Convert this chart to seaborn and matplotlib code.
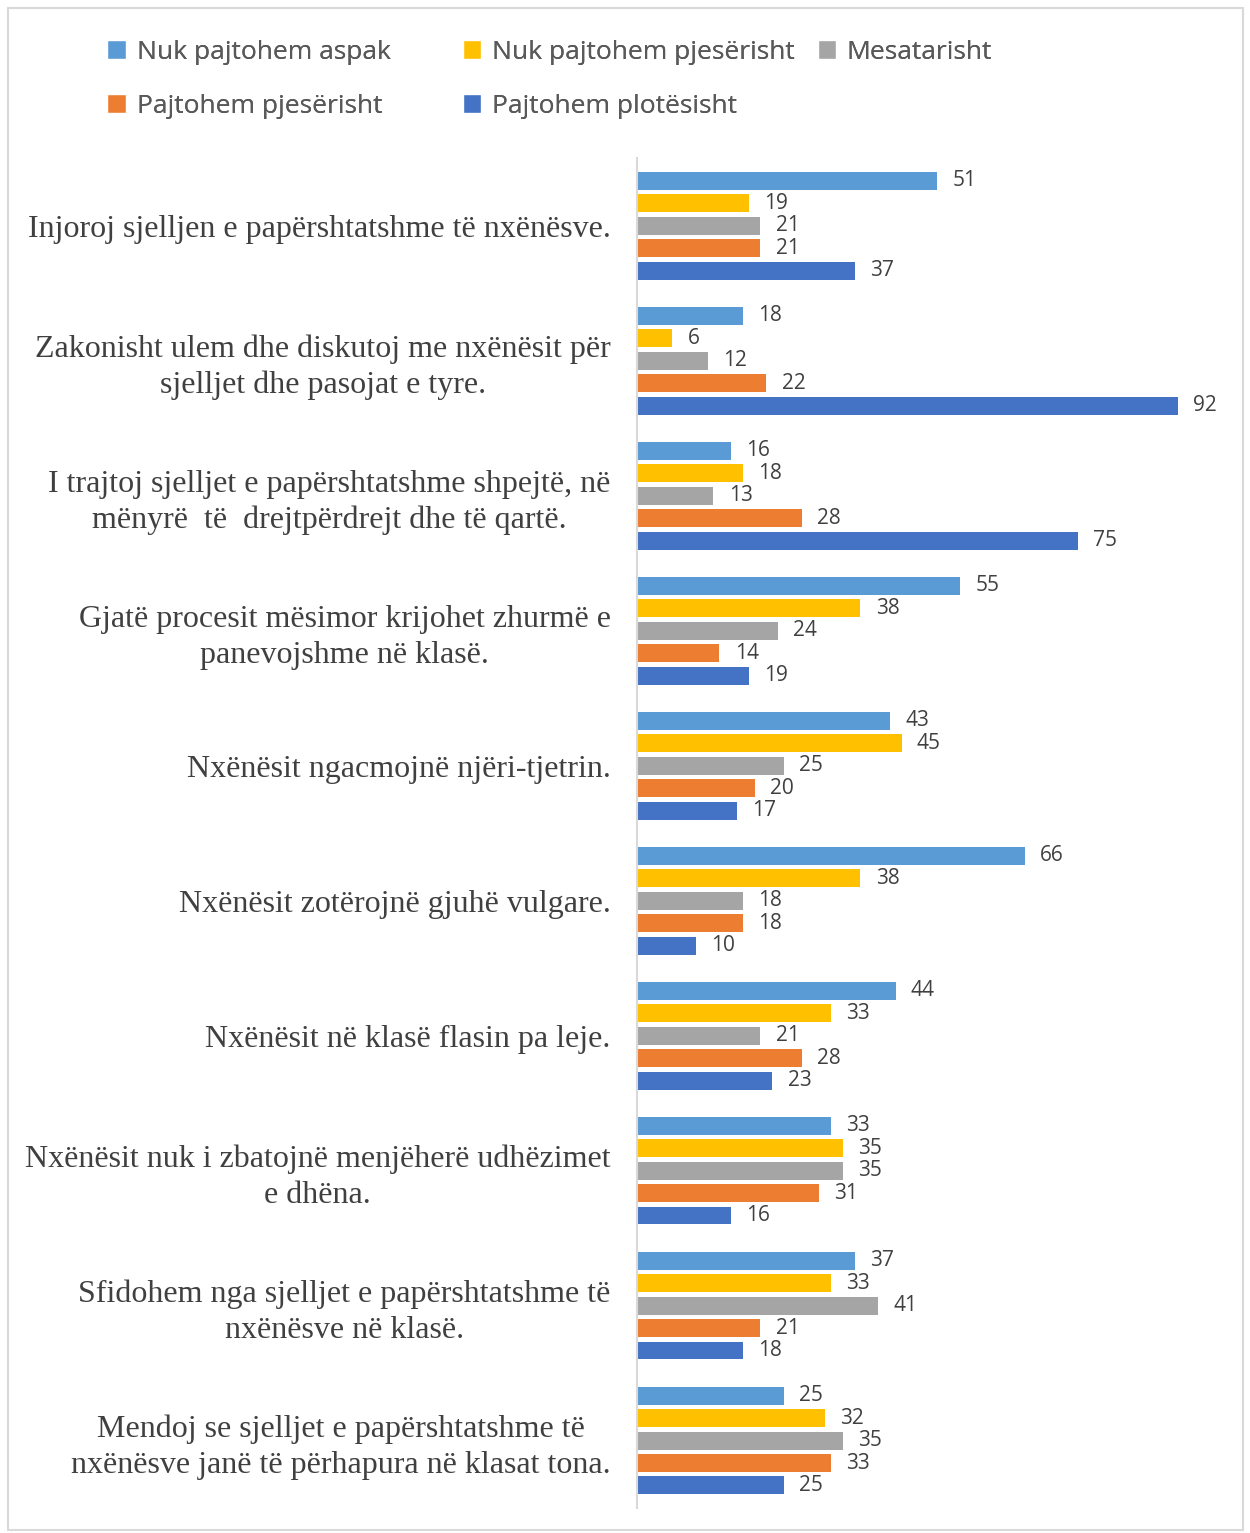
import seaborn as sns
import pandas as pd
import matplotlib.pyplot as plt
from matplotlib.patches import Rectangle, Patch

statements = [
    "Injoroj sjelljen e papërshtatshme të nxënësve.",
    "Zakonisht ulem dhe diskutoj me nxënësit për\nsjelljet dhe pasojat e tyre.",
    "I trajtoj sjelljet e papërshtatshme shpejtë, në\nmënyrë  të  drejtpërdrejt dhe të qartë.",
    "Gjatë procesit mësimor krijohet zhurmë e\npanevojshme në klasë.",
    "Nxënësit ngacmojnë njëri-tjetrin.",
    "Nxënësit zotërojnë gjuhë vulgare.",
    "Nxënësit në klasë flasin pa leje.",
    "Nxënësit nuk i zbatojnë menjëherë udhëzimet\ne dhëna.",
    "Sfidohem nga sjelljet e papërshtatshme të\nnxënësve në klasë.",
    "Mendoj se sjelljet e papërshtatshme të\nnxënësve janë të përhapura në klasat tona.",
]

answers = ["Nuk pajtohem aspak", "Nuk pajtohem pjesërisht", "Mesatarisht",
           "Pajtohem pjesërisht", "Pajtohem plotësisht"]

nuk_aspak = [51, 18, 16, 55, 43, 66, 44, 33, 37, 25]
nuk_pjeserisht = [19, 6, 18, 38, 45, 38, 33, 35, 33, 32]
mesatarisht = [21, 12, 13, 24, 25, 18, 21, 35, 41, 35]
pajtohem_pjeserisht = [21, 22, 28, 14, 20, 18, 28, 31, 21, 33]
pajtohem_plotesisht = [37, 92, 75, 19, 17, 10, 23, 16, 18, 25]

colors = ["#5B9BD5", "#FFC000", "#A5A5A5", "#ED7D31", "#4472C4"]

series = [nuk_aspak, nuk_pjeserisht, mesatarisht, pajtohem_pjeserisht, pajtohem_plotesisht]
rows = []
for ans, vals in zip(answers, series):
    for st, v in zip(statements, vals):
        rows.append({'Statement': st, 'Answer': ans, 'Count': v})
df = pd.DataFrame(rows)

sns.set_style('white')
plt.rcParams['font.family'] = ['Open Sans', 'DejaVu Sans']

fig = plt.figure(figsize=(12.5, 15.33), dpi=100)
ax = fig.add_axes([0.5096, 0.0163, 0.4704, 0.8806])

sns.barplot(data=df, y='Statement', x='Count', hue='Answer', order=statements,
            hue_order=answers, palette=colors, saturation=1, orient='h',
            width=0.833, gap=0.2, linewidth=0, ax=ax, legend=False)

for cont in ax.containers:
    ax.bar_label(cont, padding=11, fontsize=15, color='#404040')

ax.set_xlim(0, 100)
ax.set_xlabel('')
ax.set_ylabel('')
ax.set_xticks([])
for s in ['top', 'right', 'bottom']:
    ax.spines[s].set_visible(False)
ax.spines['left'].set_color('#D9D9D9')
ax.spines['left'].set_linewidth(1.5)
ax.tick_params(axis='y', length=0, pad=19)
for lbl in ax.get_yticklabels():
    lbl.set_fontfamily(['Liberation Serif', 'DejaVu Serif'])
    lbl.set_fontsize(23)
    lbl.set_color('#404040')
    lbl.set_multialignment('center')
    lbl.set_linespacing(1.3)

# legend: three columns laid out like the Excel legend (row by row)
handles = [Patch(facecolor=c, label=a) for a, c in zip(answers, colors)]
legend_cols = [[handles[0], handles[3]], [handles[1], handles[4]], [handles[2]]]
legend_x = [0.086, 0.370, 0.654]
for hs, x in zip(legend_cols, legend_x):
    leg = fig.legend(handles=hs, loc='upper left', bbox_to_anchor=(x, 0.974),
                     frameon=False, fontsize=19, labelcolor='#595959',
                     handlelength=0.7, handleheight=0.7, handletextpad=0.4,
                     labelspacing=1.1, borderpad=0, borderaxespad=0)
    fig.add_artist(leg)

fig.patches.append(Rectangle((0.006, 0.002), 0.988, 0.993, transform=fig.transFigure,
                             fill=False, edgecolor='#D9D9D9', linewidth=1.5))

plt.savefig('out.png', dpi=100)
